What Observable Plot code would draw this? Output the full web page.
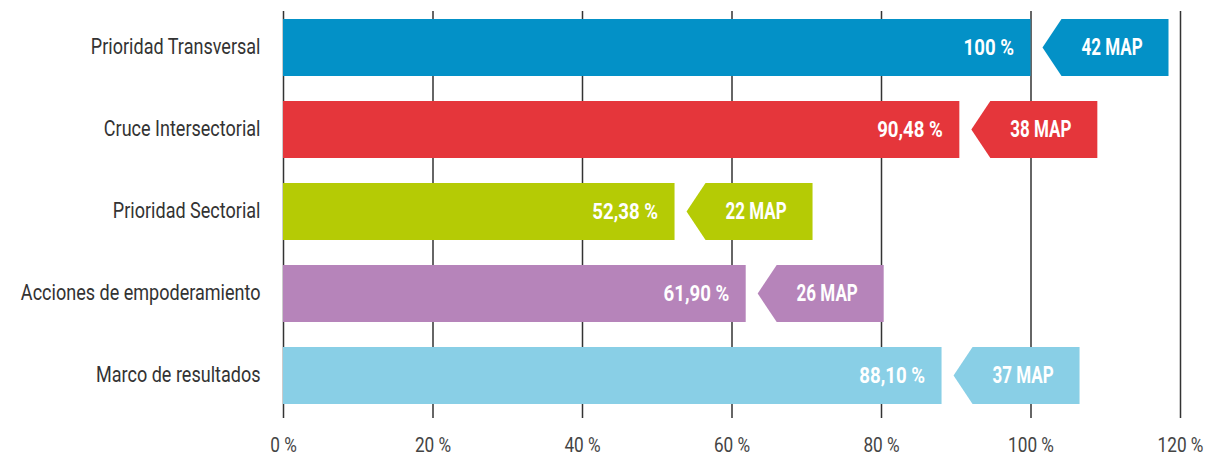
<!DOCTYPE html>
<html>
<head>
<meta charset="utf-8">
<script src="https://cdn.jsdelivr.net/npm/d3@7"></script>
<script src="https://cdn.jsdelivr.net/npm/@observablehq/plot@0.6"></script>
<style>
  html, body { margin: 0; padding: 0; background: #fff; }
</style>
</head>
<body>
<div id="chart"></div>
<script>
const categories = ["Prioridad Transversal", "Cruce Intersectorial", "Prioridad Sectorial", "Acciones de empoderamiento", "Marco de resultados"];
const percentages = [100, 90.48, 52.38, 61.90, 88.10];
const mapCounts = [42, 38, 22, 26, 37];
const colors = ["#0391c7", "#e5363b", "#b5cb05", "#b684ba", "#89cfe6"];
const xTicks = [0, 20, 40, 60, 80, 100, 120];

const FONT = 'Roboto, "DejaVu Sans Condensed", sans-serif';

const data = categories.map((cat, i) => ({
  cat,
  value: percentages[i],
  map: mapCounts[i],
  color: colors[i],
  pctLabel: (percentages[i] === 100 ? "100" : percentages[i].toFixed(2).replace(".", ",")) + " %",
  mapLabel: mapCounts[i] + " MAP"
}));

// arrow-shaped tags drawn through the plot's own scales
const arrowMark = (index, scales) => {
  const x = scales.x, y = scales.y;
  const bw = typeof y.bandwidth === "function" ? y.bandwidth() : y.bandwidth;
  const g = d3.create("svg:g");
  for (const d of data) {
    const x0 = x(d.value);
    const yt = y(d.cat), yb = yt + bw, ym = yt + bw / 2;
    g.append("path")
      .attr("fill", d.color)
      .attr("d", `M${x0 + 12},${ym}L${x0 + 31},${yt}L${x0 + 138},${yt}L${x0 + 138},${yb}L${x0 + 31},${yb}Z`);
  }
  return g.node();
};

const chart = Plot.plot({
  width: 1208,
  height: 456,
  marginLeft: 283,
  marginRight: 28,
  marginTop: 11,
  marginBottom: 38,
  style: { fontFamily: FONT, fontSize: "22px", color: "#333", background: "white", overflow: "visible" },
  x: { domain: [0, 120], ticks: xTicks, tickFormat: d => d + " %", tickSize: 0, tickPadding: 19, label: null },
  y: { domain: categories, paddingInner: 0.309, paddingOuter: 0.127, align: 0.38, tickSize: 0, tickPadding: 23, label: null },
  marks: [
    Plot.gridX(xTicks, { stroke: "#333", strokeOpacity: 1, strokeWidth: 1.5 }),
    Plot.barX(data, { x: "value", y: "cat", fill: "color" }),
    arrowMark,
    Plot.text(data, { x: "value", y: "cat", text: "pctLabel", textAnchor: "end", dx: -17, fill: "white", fontWeight: "bold", fontSize: 23 }),
    Plot.text(data, { x: "value", y: "cat", text: "mapLabel", textAnchor: "middle", dx: 81, fill: "white", fontWeight: "bold", fontSize: 23 }),
    Plot.axisX({ ticks: xTicks, tickFormat: d => d + " %", tickSize: 0, tickPadding: 19, fontSize: 21, fill: "#444" }),
    Plot.axisY({ tickSize: 0, tickPadding: 23, fontSize: 22, fill: "#333", dy: -1 })
  ]
});
document.getElementById("chart").appendChild(chart);

// emulate the condensed typeface of the original by narrowing each label about its anchor
function squeezeTexts(groups, k) {
  groups.forEach(g => {
    g.querySelectorAll("text").forEach(t => {
      const xa = +(t.getAttribute("x") || 0);
      const tr = t.getAttribute("transform") || "";
      t.setAttribute("transform", `${tr} translate(${xa},0) scale(${k},1) translate(${-xa},0)`);
    });
  });
}
const textGroups = chart.querySelectorAll('g[aria-label="text"]');
if (textGroups[0]) squeezeTexts([textGroups[0]], 0.81);
if (textGroups[1]) squeezeTexts([textGroups[1]], 0.74);
squeezeTexts(chart.querySelectorAll('g[aria-label="x-axis tick label"]'), 0.82);
squeezeTexts(chart.querySelectorAll('g[aria-label="y-axis tick label"]'), 0.82);
</script>
</body>
</html>
